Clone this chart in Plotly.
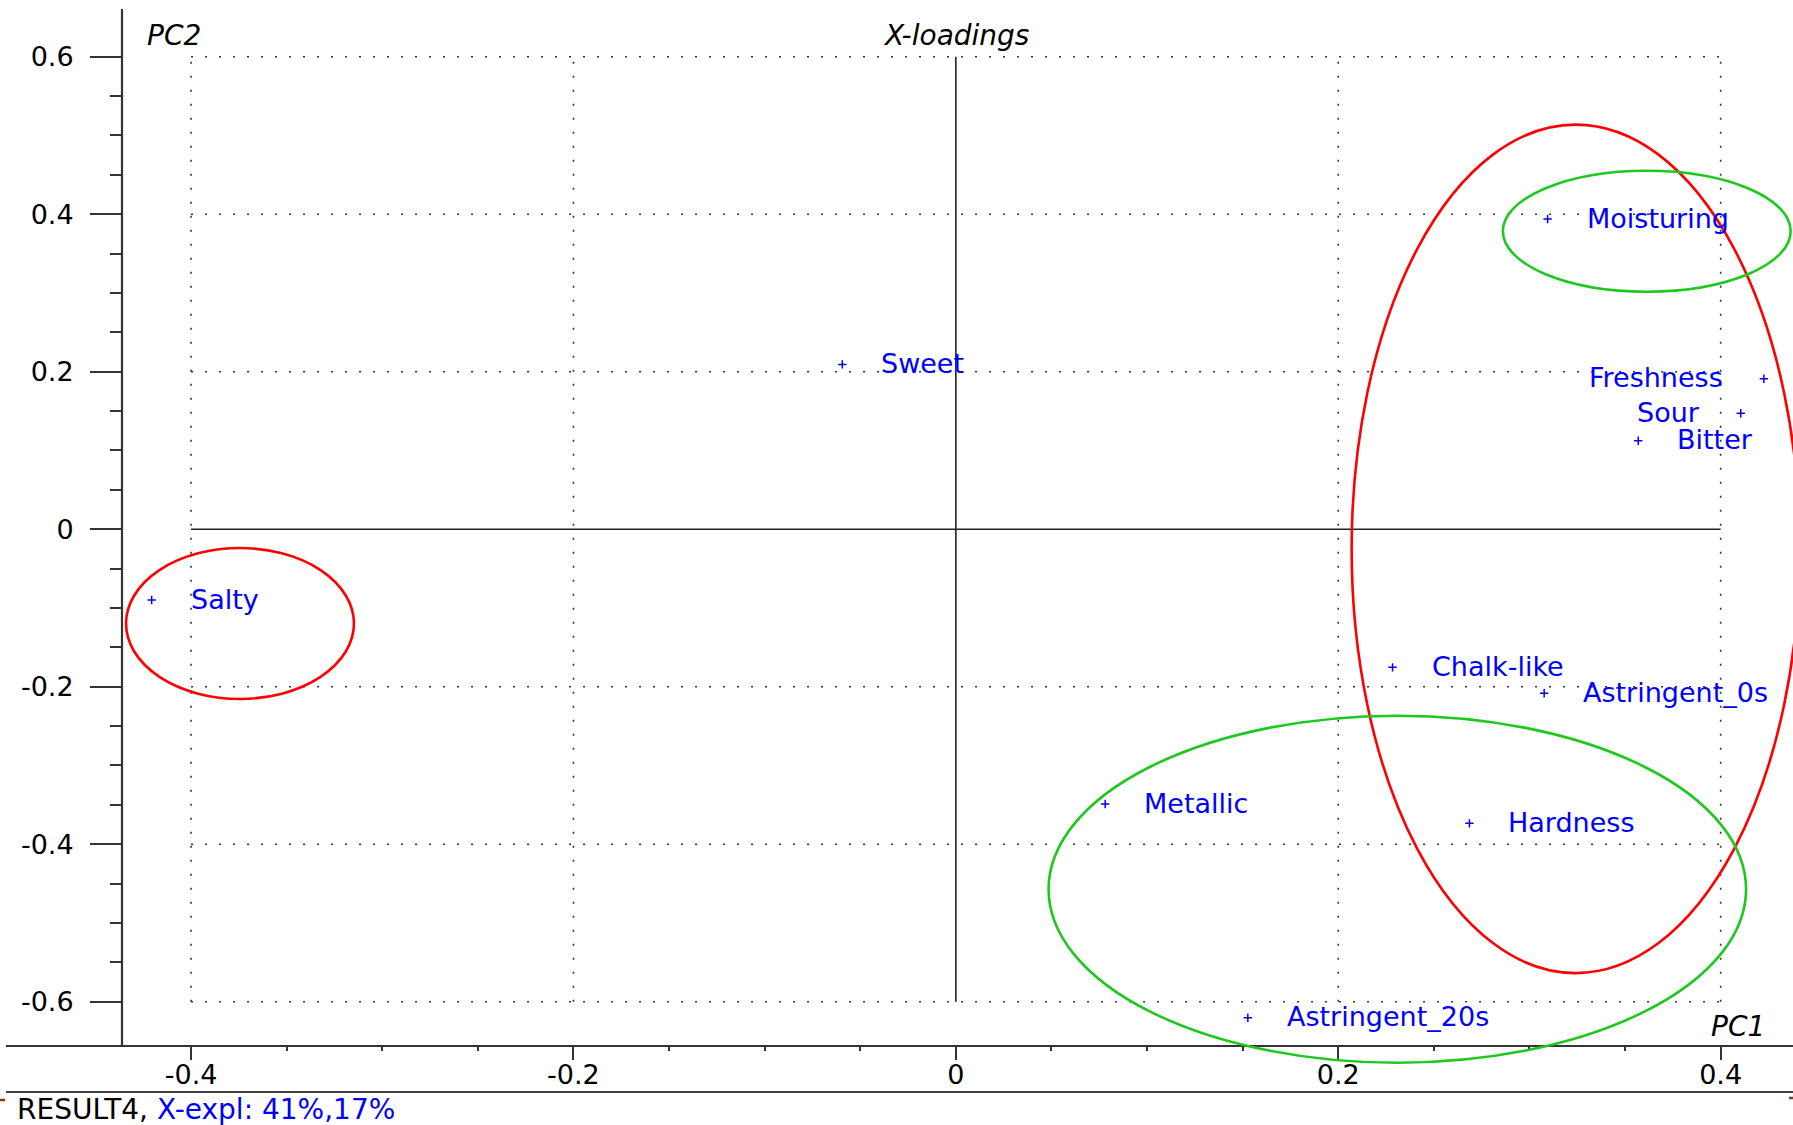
import plotly.graph_objects as go

# ---------------- data ----------------
VARIABLES = ["Moisturing", "Sweet", "Freshness", "Sour", "Bitter", "Salty",
             "Chalk-like", "Astringent_0s", "Metallic", "Hardness", "Astringent_20s"]
PC1 = [0.3095, -0.0594, 0.4226, 0.4105, 0.3569, -0.4206,
       0.2284, 0.3077, 0.0781, 0.2686, 0.1527]
PC2 = [0.3939, 0.2093, 0.1911, 0.1472, 0.1124, -0.0899,
       -0.1754, -0.2084, -0.3490, -0.3735, -0.6203]

X_TICKS = [-0.4, -0.2, 0, 0.2, 0.4]
X_TICK_TEXT = ["-0.4", "-0.2", "0", "0.2", "0.4"]
Y_TICKS = [-0.6, -0.4, -0.2, 0, 0.2, 0.4, 0.6]
Y_TICK_TEXT = ["-0.6", "-0.4", "-0.2", "0", "0.2", "0.4", "0.6"]
X_MINOR = [-0.35, -0.3, -0.25, -0.15, -0.1, -0.05, 0.05, 0.1, 0.15, 0.25, 0.3, 0.35]
Y_MINOR = [-0.55, -0.5, -0.45, -0.35, -0.3, -0.25, -0.15, -0.1, -0.05,
           0.05, 0.1, 0.15, 0.25, 0.3, 0.35, 0.45, 0.5, 0.55]
GRID_X = [-0.4, -0.2, 0.2, 0.4]
GRID_Y = [-0.6, -0.4, -0.2, 0.2, 0.4, 0.6]

# hand-drawn groupings: (x0, x1, y0, y1, colour)
GROUPS = [
    (-0.4340, -0.3148, -0.0239, -0.2156, "#FF0000"),
    (0.2070, 0.4414, 0.5138, -0.5637, "#FF0000"),
    (0.2861, 0.4366, 0.4552, 0.3016, "#1EC81E"),
    (0.0485, 0.4133, -0.2368, -0.6775, "#1EC81E"),
]
LEFT_LABELLED = {"Freshness", "Sour"}

TITLE = "X-loadings"
XNAME, YNAME = "PC1", "PC2"
FOOT_BLACK = "RESULT4, "
FOOT_BLUE = "X-expl: 41%,17%"

# ---------------- layout geometry ----------------
W, H = 1793, 1125
ML, MR, MT, MB = 6, 0, 9, 0
PW, PH = W - ML - MR, H - MT - MB
X0PIX, XSCALE = 955.85, 1912.0   # pixel of x=0, pixels per unit
Y0PIX, YSCALE = 529.2, 787.5
XR = [(ML - X0PIX) / XSCALE, (W - MR - X0PIX) / XSCALE]
YR = [(Y0PIX - (H - MB)) / YSCALE, (Y0PIX - MT) / YSCALE]


def pxx(p):
    return (p - ML) / PW


def pxy(p):
    return (H - MB - p) / PH


FONT = "DejaVu Sans, Liberation Sans, Arial, sans-serif"
AXC = "#333333"
BLUE = "#0000FF"

fig = go.Figure()
fig.add_trace(go.Scatter(
    x=PC1, y=PC2, mode="markers",
    marker=dict(symbol="cross-thin", size=6, color=BLUE,
                line=dict(color=BLUE, width=1.5)),
    hoverinfo="text", text=VARIABLES, showlegend=False, cliponaxis=False))

shapes = []
# dotted grid
for gx in GRID_X:
    shapes.append(dict(type="line", xref="x", yref="y", x0=gx, x1=gx,
                       y0=min(GRID_Y), y1=max(GRID_Y),
                       line=dict(color=AXC, width=1.6, dash="2px,12px"), layer="below"))
for gy in GRID_Y:
    shapes.append(dict(type="line", xref="x", yref="y", x0=min(GRID_X), x1=max(GRID_X),
                       y0=gy, y1=gy,
                       line=dict(color=AXC, width=1.6, dash="2px,12px"), layer="below"))
# zero lines
shapes.append(dict(type="line", xref="x", yref="y", x0=0, x1=0,
                   y0=min(GRID_Y), y1=max(GRID_Y), line=dict(color="#222222", width=1.6),
                   layer="below"))
shapes.append(dict(type="line", xref="x", yref="y", x0=min(GRID_X), x1=max(GRID_X),
                   y0=0, y1=0, line=dict(color="#222222", width=1.6), layer="below"))
# y axis line (stops at x axis)
shapes.append(dict(type="line", xref="paper", yref="paper", x0=pxx(122), x1=pxx(122),
                   y0=pxy(1046), y1=pxy(9), line=dict(color=AXC, width=2.2)))
# separator above footer
shapes.append(dict(type="line", xref="paper", yref="paper", x0=0, x1=1,
                   y0=pxy(1092), y1=pxy(1092), line=dict(color="#444444", width=2.2)))
# tiny brown marks at the edges
shapes.append(dict(type="line", xref="paper", yref="paper", x0=pxx(0), x1=pxx(5),
                   y0=pxy(1100), y1=pxy(1100), line=dict(color="#8B3A1A", width=2.5)))
shapes.append(dict(type="line", xref="paper", yref="paper", x0=pxx(1789), x1=pxx(1793),
                   y0=pxy(1098), y1=pxy(1098), line=dict(color="#8B3A1A", width=2.5)))
# group ellipses
for x0, x1, y0, y1, col in GROUPS:
    shapes.append(dict(type="circle", xref="x", yref="y", x0=x0, x1=x1, y0=y0, y1=y1,
                       line=dict(color=col, width=2.6), layer="above"))

ann = []
for name, x, y in zip(VARIABLES, PC1, PC2):
    left = name in LEFT_LABELLED
    ann.append(dict(x=x, y=y, xref="x", yref="y", text=name, showarrow=False,
                    xanchor="right" if left else "left", yanchor="middle",
                    xshift=-39 if left else 37, yshift=1,
                    font=dict(family=FONT, size=27, color=BLUE)))

ann.append(dict(x=0, y=pxy(35), xref="x", yref="paper", text="<i>%s</i>" % TITLE,
                showarrow=False, xanchor="center", yanchor="middle",
                font=dict(family=FONT, size=28, color="black")))
ann.append(dict(x=pxx(145), y=pxy(35), xref="paper", yref="paper", text="<i>%s</i>" % YNAME,
                showarrow=False, xanchor="left", yanchor="middle",
                font=dict(family=FONT, size=28, color="black")))
ann.append(dict(x=pxx(1767), y=pxy(1026), xref="paper", yref="paper", text="<i>%s</i>" % XNAME,
                showarrow=False, xanchor="right", yanchor="middle",
                font=dict(family=FONT, size=28, color="black")))
ann.append(dict(x=pxx(15), y=pxy(1109), xref="paper", yref="paper",
                text='%s<span style="color:%s">%s</span>' % (FOOT_BLACK, BLUE, FOOT_BLUE),
                showarrow=False, xanchor="left", yanchor="middle",
                font=dict(family=FONT, size=28, color="black")))

fig.update_layout(
    template="none",
    width=W, height=H,
    margin=dict(l=ML, r=MR, t=MT, b=MB, pad=0),
    paper_bgcolor="white", plot_bgcolor="white",
    showlegend=False,
    shapes=shapes, annotations=ann,
    xaxis=dict(range=XR, anchor="free", position=pxy(1046), showgrid=False, zeroline=False,
               showline=True, linecolor=AXC, linewidth=2.2,
               tickmode="array", tickvals=X_TICKS, ticktext=X_TICK_TEXT,
               ticks="outside", ticklen=13, tickwidth=2, tickcolor=AXC,
               ticklabelstandoff=-9,
               tickfont=dict(family=FONT, size=27, color="black"),
               minor=dict(tickmode="array", tickvals=X_MINOR, ticks="outside",
                          ticklen=4, tickwidth=2, tickcolor=AXC, showgrid=False),
               automargin=False, fixedrange=True),
    yaxis=dict(range=YR, anchor="free", position=pxx(122), showgrid=False, zeroline=False,
               showline=False,
               tickmode="array", tickvals=Y_TICKS, ticktext=Y_TICK_TEXT,
               ticks="outside", ticklen=32, tickwidth=2, tickcolor=AXC,
               ticklabelstandoff=11,
               tickfont=dict(family=FONT, size=27, color="black"),
               minor=dict(tickmode="array", tickvals=Y_MINOR, ticks="outside",
                          ticklen=12, tickwidth=2, tickcolor=AXC, showgrid=False),
               automargin=False, fixedrange=True),
)

fig.write_html("out.html", config={"displayModeBar": False},
               post_script="document.body.style.margin='0';"
                           "document.body.style.overflow='hidden';")
